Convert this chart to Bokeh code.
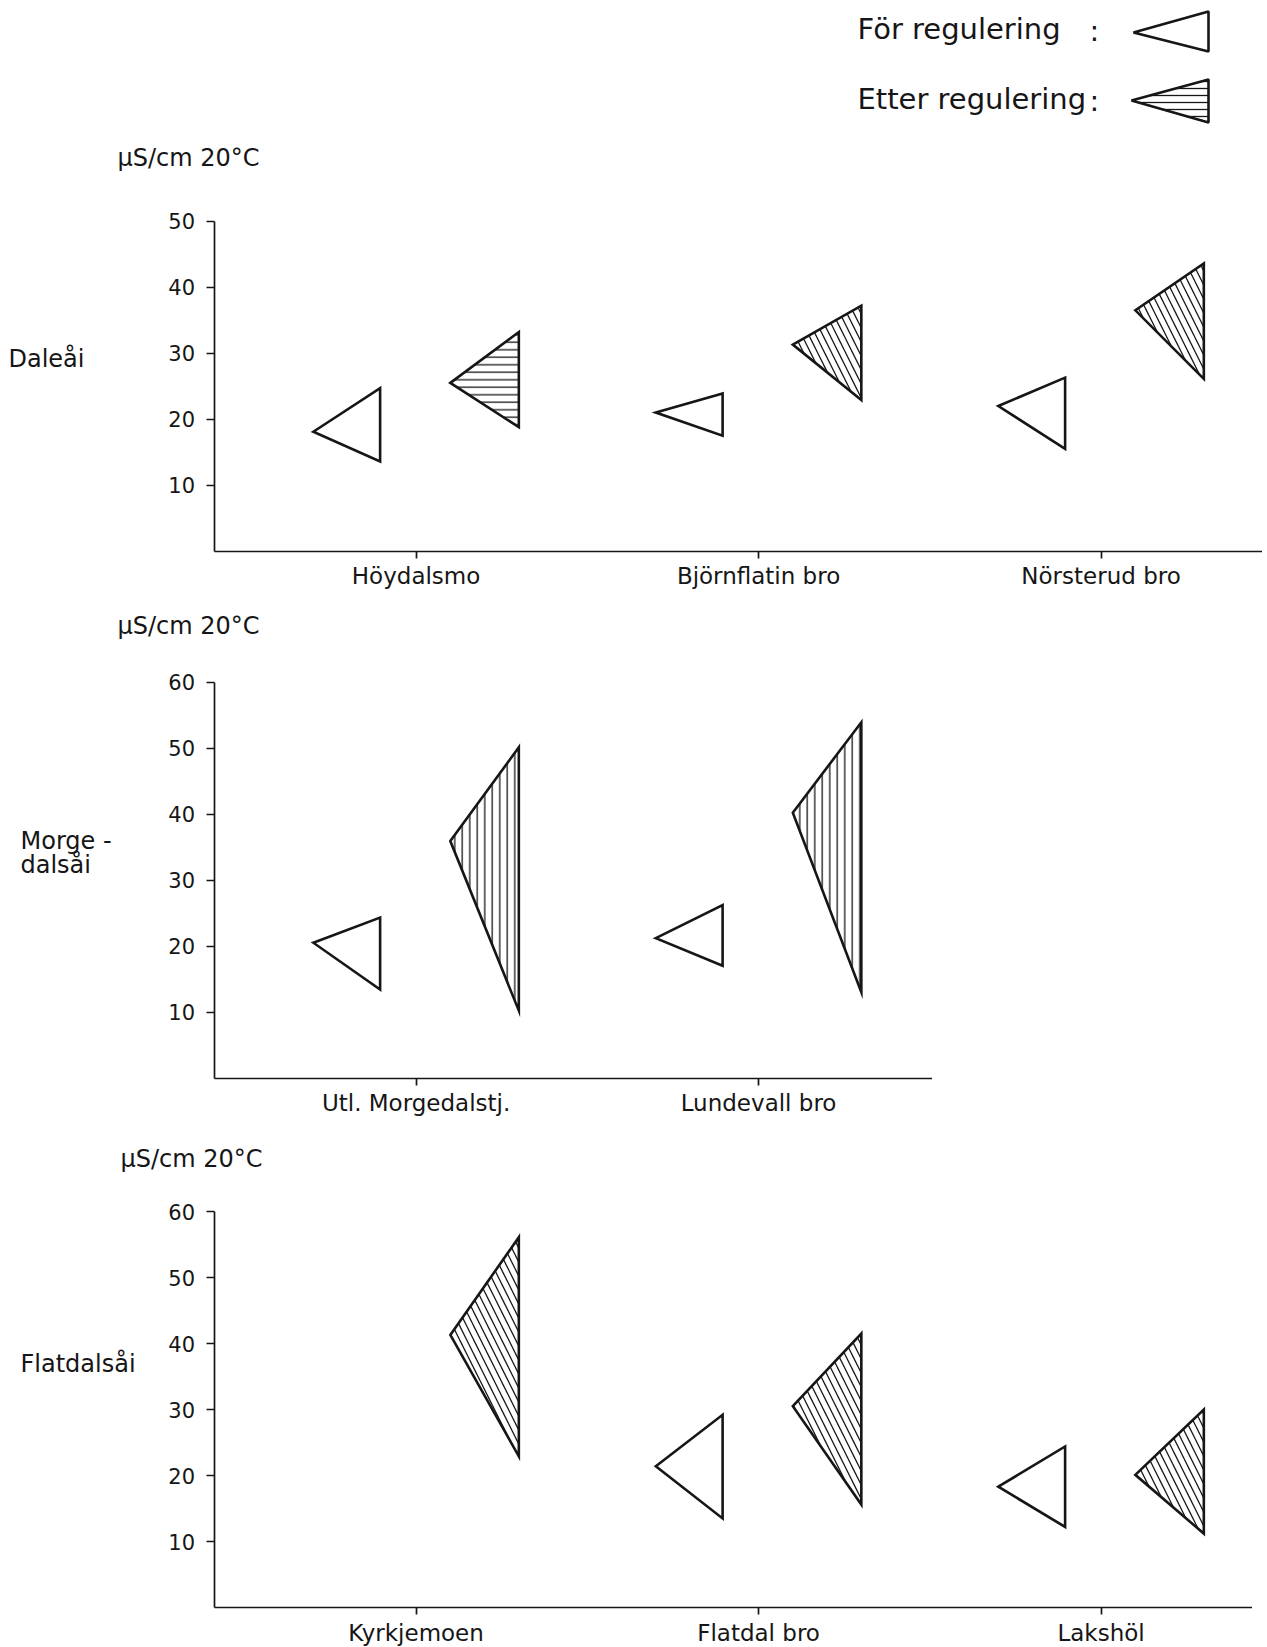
from bokeh.plotting import figure
from bokeh.models import ColumnDataSource, Range1d, FixedTicker, Label, PolyAnnotation
from bokeh.layouts import column
from bokeh.embed import file_html
from bokeh.resources import INLINE

# ---------------- data (µS/cm at 20 °C) ----------------
dale_sites = ["Höydalsmo", "Björnflatin bro", "Nörsterud bro"]
dale_before_mean = [18.1, 21.0, 22.0]
dale_before_max = [24.7, 23.9, 26.3]
dale_before_min = [13.6, 17.5, 15.5]
dale_after_mean = [25.5, 31.3, 36.5]
dale_after_max = [33.2, 37.2, 43.6]
dale_after_min = [18.8, 22.9, 26.1]

morg_sites = ["Utl. Morgedalstj.", "Lundevall bro"]
morg_before_mean = [20.5, 21.2]
morg_before_max = [24.3, 26.2]
morg_before_min = [13.4, 17.0]
morg_after_mean = [35.9, 40.2]
morg_after_max = [50.1, 53.9]
morg_after_min = [10.2, 13.0]

flat_sites = ["Kyrkjemoen", "Flatdal bro", "Lakshöl"]
flat_before_mean = [None, 21.4, 18.3]
flat_before_max = [None, 29.2, 24.4]
flat_before_min = [None, 13.5, 12.2]
flat_after_mean = [41.3, 30.5, 20.1]
flat_after_max = [56.1, 41.5, 30.0]
flat_after_min = [22.9, 15.6, 11.2]

dale_yticks = [10, 20, 30, 40, 50]
morg_yticks = [10, 20, 30, 40, 50, 60]
flat_yticks = [10, 20, 30, 40, 50, 60]

unit_label = "µS/cm 20°C"
legend_before = "För regulering"
legend_after = "Etter regulering"

# ---------------- style / layout ----------------
FONT = "DejaVu Sans"
INK = "#161616"
PX_PER_UNIT = 6.6          # pixels per µS/cm
PX_PER_SITE = 342.5        # pixels between sites
AXIS_X = -0.59             # x position (site units) of the y axis
AXIS_PX = 213.5            # page x of the y axis
OPEN_APEX, OPEN_RIGHT = -0.30, -0.105
HATCH_APEX, HATCH_RIGHT = 0.10, 0.30


def make_panel(sites, bmean, bmax, bmin, amean, amax, amin, yticks, hatches,
               fig_w, fig_top, fig_h, zero_py):
    x_start = AXIS_X - AXIS_PX / PX_PER_SITE
    x_end = AXIS_X + (fig_w - AXIS_PX) / PX_PER_SITE
    y_start = -(fig_top + fig_h - zero_py) / PX_PER_UNIT
    y_end = (zero_py - fig_top) / PX_PER_UNIT
    p = figure(width=fig_w, height=fig_h,
               x_range=Range1d(x_start, x_end), y_range=Range1d(y_start, y_end),
               min_border=0, output_backend="svg", toolbar_location=None)
    p.xgrid.visible = False
    p.ygrid.visible = False
    p.outline_line_color = None
    p.background_fill_color = "white"
    p.border_fill_color = "white"

    ya = p.yaxis[0]
    ya.fixed_location = AXIS_X
    ya.ticker = FixedTicker(ticks=yticks)
    ya.bounds = (0, yticks[-1])
    ya.minor_tick_line_color = None
    ya.major_tick_out = 8
    ya.major_tick_in = 0
    ya.major_label_standoff = 11
    ya.axis_line_width = 1.7
    ya.major_tick_line_width = 1.7
    ya.axis_line_color = INK
    ya.major_tick_line_color = INK
    ya.major_label_text_font = FONT
    ya.major_label_text_font_size = "21px"
    ya.major_label_text_color = INK

    xa = p.xaxis[0]
    xa.fixed_location = 0
    xa.bounds = (AXIS_X, x_end)
    xa.ticker = FixedTicker(ticks=list(range(len(sites))))
    xa.major_label_overrides = {i: s for i, s in enumerate(sites)}
    xa.minor_tick_line_color = None
    xa.major_tick_out = 7
    xa.major_tick_in = 0
    xa.major_label_standoff = 5
    xa.axis_line_width = 1.7
    xa.major_tick_line_width = 1.7
    xa.axis_line_color = INK
    xa.major_tick_line_color = INK
    xa.major_label_text_font = FONT
    xa.major_label_text_font_size = "23px"
    xa.major_label_text_color = INK

    oxs, oys, hxs, hys, hpat, hsc = [], [], [], [], [], []
    for i in range(len(sites)):
        if bmean[i] is not None:
            oxs.append([i + OPEN_APEX, i + OPEN_RIGHT, i + OPEN_RIGHT])
            oys.append([bmean[i], bmax[i], bmin[i]])
        if amean[i] is not None:
            hxs.append([i + HATCH_APEX, i + HATCH_RIGHT, i + HATCH_RIGHT])
            hys.append([amean[i], amax[i], amin[i]])
            hpat.append(hatches[i])
            hsc.append(14 if "diagonal" in hatches[i] else 7.5)
    p.patches(xs="xs", ys="ys", source=ColumnDataSource(dict(xs=oxs, ys=oys)),
              fill_color="white", line_color=INK, line_width=2.6, line_join="miter")
    p.patches(xs="xs", ys="ys", source=ColumnDataSource(dict(xs=hxs, ys=hys, hp=hpat, hs=hsc)),
              fill_color="white", line_color=INK, line_width=2.6, line_join="miter",
              hatch_pattern="hp", hatch_scale="hs", hatch_color=INK, hatch_weight=1.3)
    return p


def add_text(p, text, page_x, page_y, fig_top, fig_h, size="24px", align="left"):
    p.add_layout(Label(x=page_x, y=fig_top + fig_h - page_y,
                       x_units="screen", y_units="screen", text=text,
                       text_font=FONT, text_font_size=size, text_color=INK,
                       text_align=align, text_baseline="middle"))


# panel 1 (Daleåi) with legend on top
TOP1, H1 = 0, 600
p1 = make_panel(dale_sites, dale_before_mean, dale_before_max, dale_before_min,
                dale_after_mean, dale_after_max, dale_after_min, dale_yticks,
                ["horizontal_line", "left_diagonal_line", "left_diagonal_line"],
                fig_w=1262, fig_top=TOP1, fig_h=H1, zero_py=550.7)
add_text(p1, unit_label, 117, 157, TOP1, H1)
add_text(p1, "Daleåi", 8, 358, TOP1, H1)
add_text(p1, legend_before, 857, 28, TOP1, H1, size="29px")
add_text(p1, ":", 1089, 30, TOP1, H1, size="29px")
add_text(p1, legend_after, 857, 98, TOP1, H1, size="29px")
add_text(p1, ":", 1089, 100, TOP1, H1, size="29px")
p1.add_layout(PolyAnnotation(xs=[1133, 1208, 1208], ys=[H1 - 32, H1 - 11, H1 - 51],
                             xs_units="screen", ys_units="screen",
                             fill_color="white", fill_alpha=1.0,
                             line_color=INK, line_alpha=1.0, line_width=2.6))
p1.add_layout(PolyAnnotation(xs=[1131, 1208, 1208], ys=[H1 - 100, H1 - 79, H1 - 122],
                             xs_units="screen", ys_units="screen",
                             fill_color="white", fill_alpha=1.0,
                             line_color=INK, line_alpha=1.0, line_width=2.6,
                             hatch_pattern="horizontal_line", hatch_color=INK,
                             hatch_scale=7, hatch_weight=1.3, hatch_alpha=1.0))

# panel 2 (Morgedalsåi)
TOP2, H2 = 600, 529
p2 = make_panel(morg_sites, morg_before_mean, morg_before_max, morg_before_min,
                morg_after_mean, morg_after_max, morg_after_min, morg_yticks,
                ["vertical_line", "vertical_line"],
                fig_w=932, fig_top=TOP2, fig_h=H2, zero_py=1077.5)
add_text(p2, unit_label, 117, 625, TOP2, H2)
add_text(p2, "Morge -", 20, 840, TOP2, H2)
add_text(p2, "dalsåi", 20, 864, TOP2, H2)

# panel 3 (Flatdalsåi)
TOP3, H3 = 1129, 518
p3 = make_panel(flat_sites, flat_before_mean, flat_before_max, flat_before_min,
                flat_after_mean, flat_after_max, flat_after_min, flat_yticks,
                ["left_diagonal_line", "left_diagonal_line", "left_diagonal_line"],
                fig_w=1252, fig_top=TOP3, fig_h=H3, zero_py=1607)
add_text(p3, unit_label, 120, 1158, TOP3, H3)
add_text(p3, "Flatdalsåi", 20, 1363, TOP3, H3)

layout = column(p1, p2, p3)
open("out.html", "w").write(file_html(layout, INLINE))
